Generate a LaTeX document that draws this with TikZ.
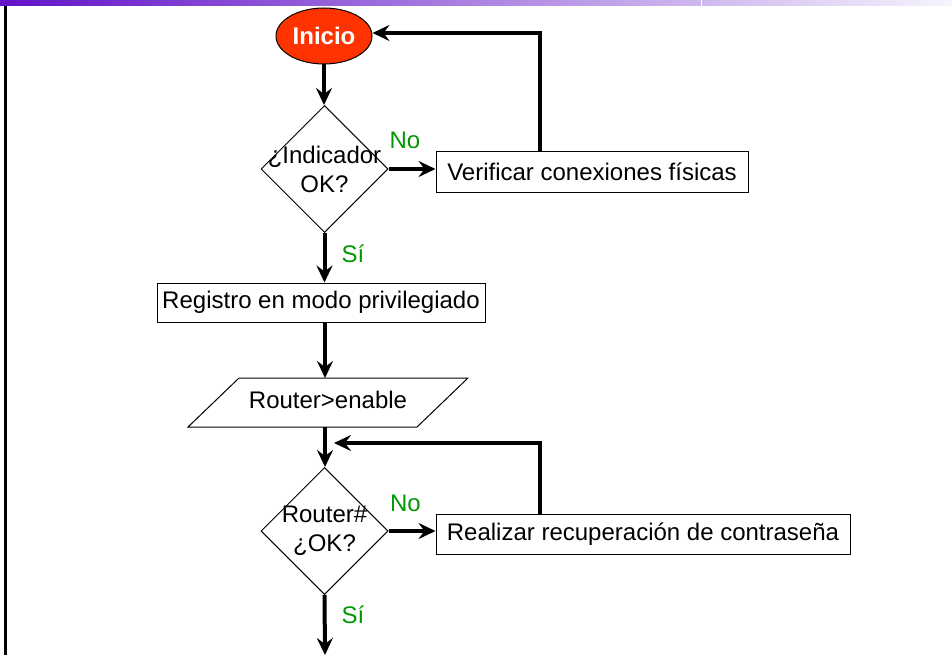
\documentclass[tikz,border=0pt]{standalone}
\usepackage{fontspec}
\setmainfont{Liberation Sans}
\usetikzlibrary{arrows.meta,shapes.geometric}
\definecolor{labelgreen}{RGB}{0,153,0}
\definecolor{startred}{RGB}{255,51,0}
\definecolor{barviolet}{RGB}{98,18,200}
\definecolor{barpale}{RGB}{246,244,252}

\begin{document}
\begin{tikzpicture}[x=1pt,y=-1pt,
  every node/.style={font=\fontsize{24}{29}\selectfont},
  flow/.style={line width=4pt, -{Stealth[length=17pt,width=16pt,inset=6pt]}},
  stepbox/.style={draw, line width=1pt, inner sep=0pt},
  decision/.style={diamond, draw, line width=1pt, minimum width=127pt,
    minimum height=127pt, inner sep=0pt},
  yesno/.style={text=labelgreen, anchor=base},
]
% page, header bar and left rule
\fill[white] (0,0) rectangle (952,655);
\useasboundingbox (0,0) rectangle (952,655);
\shade[left color=barviolet, right color=barpale] (0,0) rectangle (952,6);
\draw[white, line width=1pt] (701,0) -- (701,6);
\fill[black] (4,6) rectangle (6.8,655);

% start
\node[ellipse, draw, line width=1pt, fill=startred, text=white,
  font=\fontsize{24}{29}\selectfont\bfseries,
  minimum width=96pt, minimum height=56pt, inner sep=0pt] (inicio) at (324,36) {Inicio};

% first check
\node[decision] (q1) at (324.5,169) {};
\node[align=center] (q1text) at (q1) {¿Indicador\\OK?};
\node[stepbox, minimum width=312pt, minimum height=40pt] (verif) at (592,172)
  {Verificar conexiones físicas};

% privileged mode
\node[stepbox, minimum width=328pt, minimum height=39pt] (priv) at (321,302.5)
  {Registro en modo privilegiado};

% input step (parallelogram)
\draw[line width=1pt] (239,378) -- (468,378) -- (417,427) -- (188,427) -- cycle;
\node (enable) at (328,400) {Router>enable};
\coordinate (enTop) at (325,378);
\coordinate (enBot) at (325,427);

% second check
\node[decision] (q2) at (324.5,531) {};
\node[align=center] (q2text) at (q2) {Router\#\\¿OK?};
\node[stepbox, minimum width=414pt, minimum height=40pt] (recov) at (643,534)
  {Realizar recuperación de contraseña};

% branch labels
\node[yesno] (no1) at (405,149) {No};
\node[yesno] (si1) at (353,262) {Sí};
\node[yesno] (no2) at (405.5,511) {No};
\node[yesno] (si2) at (353,623) {Sí};

% connectors
\coordinate (loopx) at (540,0);
\coordinate (merge) at (334,443);
\coordinate (exit) at (325,655);

\draw[flow] (inicio.south) -- (inicio.south |- q1.north);
\draw[flow] (q1.east) -- (q1.east -| verif.west);
\draw[flow] (verif.north -| loopx) |- ([yshift=3pt]inicio.east);
\draw[flow] (q1.south) -- (q1.south |- priv.north);
\draw[flow] (priv.south -| enTop) -- (enTop);
\draw[flow] (enBot) -- (enBot |- q2.north);
\draw[flow] (recov.north -| loopx) |- (merge);
\draw[flow] (q2.east) -- (q2.east -| recov.west);
\draw[flow] (q2.south) -- (exit);
\end{tikzpicture}
\end{document}
